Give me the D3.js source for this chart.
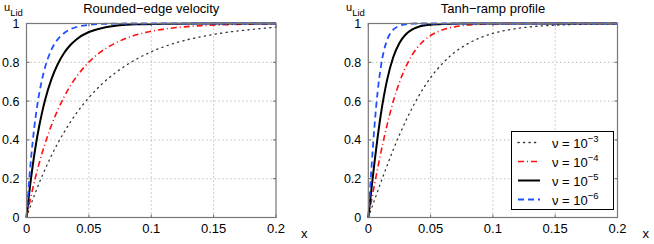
<!DOCTYPE html>
<html>
<head>
<meta charset="utf-8">
<script src="https://cdn.jsdelivr.net/npm/d3@7"></script>
<style>
  body { margin: 0; background: #fff; }
  svg { font-family: "Liberation Sans", Arial, sans-serif; }
</style>
</head>
<body>
<div id="chart"></div>
<script>
// sample positions along the lid
const xVals = [0, 0.0025, 0.005, 0.0075, 0.01, 0.0125, 0.015, 0.02, 0.025, 0.03, 0.035, 0.04,
               0.05, 0.06, 0.07, 0.08, 0.09, 0.1, 0.12, 0.14, 0.16, 0.18, 0.2];

// rounded-edge velocity
const edgeNu3 = [0, 0.047, 0.092, 0.134, 0.175, 0.213, 0.25, 0.319, 0.382, 0.438, 0.49, 0.537,
                 0.618, 0.685, 0.74, 0.785, 0.823, 0.854, 0.901, 0.932, 0.954, 0.969, 0.981];
const edgeNu4 = [0, 0.077, 0.149, 0.215, 0.276, 0.332, 0.384, 0.475, 0.553, 0.62, 0.677, 0.725,
                 0.801, 0.856, 0.895, 0.924, 0.945, 0.96, 0.979, 0.989, 0.994, 0.997, 0.998];
const edgeNu5 = [0, 0.145, 0.268, 0.374, 0.465, 0.542, 0.608, 0.713, 0.79, 0.847, 0.888, 0.918,
                 0.956, 0.976, 0.987, 0.993, 0.996, 0.998, 0.999, 1, 1, 1, 1];
const edgeNu6 = [0, 0.221, 0.393, 0.528, 0.632, 0.713, 0.777, 0.865, 0.918, 0.95, 0.97, 0.982,
                 0.993, 0.998, 0.999, 1, 1, 1, 1, 1, 1, 1, 1];

// tanh ramp
const tanhNu3 = [0, 0.045, 0.091, 0.135, 0.18, 0.223, 0.266, 0.349, 0.426, 0.497, 0.562, 0.621,
                 0.721, 0.797, 0.855, 0.896, 0.927, 0.949, 0.975, 0.988, 0.994, 0.997, 0.999];
const tanhNu4 = [0, 0.086, 0.171, 0.253, 0.332, 0.406, 0.475, 0.598, 0.697, 0.775, 0.836, 0.881,
                 0.938, 0.968, 0.984, 0.992, 0.996, 0.998, 1, 1, 1, 1, 1];
const tanhNu5 = [0, 0.146, 0.286, 0.414, 0.529, 0.626, 0.707, 0.826, 0.9, 0.943, 0.968, 0.982,
                 0.994, 0.998, 0.999, 1, 1, 1, 1, 1, 1, 1, 1];
const tanhNu6 = [0, 0.252, 0.474, 0.649, 0.774, 0.859, 0.913, 0.968, 0.988, 0.996, 0.999, 1,
                 1, 1, 1, 1, 1, 1, 1, 1, 1, 1, 1];

const nuExps = ["−3", "−4", "−5", "−6"];
const xTicks = [0, 0.05, 0.1, 0.15, 0.2];
const yTicks = [0, 0.2, 0.4, 0.6, 0.8, 1];
const titles = ["Rounded−edge velocity", "Tanh−ramp profile"];

const styles = [
  { color: "#333", width: 1.3, dash: "1.2,4.3", cap: "round" },
  { color: "#ff1010", width: 1.6, dash: "6,3,1,3", cap: "butt" },
  { color: "#000", width: 2, dash: null, cap: "butt" },
  { color: "#2050ff", width: 1.8, dash: "6,4", cap: "butt" }
];

const W = 654, H = 244;
const svg = d3.select("#chart").append("svg")
    .attr("width", W).attr("height", H);

const fmt = d => d === 0 ? "0" : String(d);

function drawPanel(left, right, title, seriesList, withLegend, yAxisX) {
    const x = d3.scaleLinear().domain([0, 0.2]).range([left, right]);
    const y = d3.scaleLinear().domain([0, 1]).range([217.5, 23.5]);
    const g = svg.append("g");

    // grid
    g.selectAll(".vg").data(xTicks.slice(1, -1)).enter().append("line")
        .attr("x1", d => x(d)).attr("x2", d => x(d))
        .attr("y1", y(0)).attr("y2", y(1))
        .attr("stroke", "#888").attr("stroke-width", 0.8)
        .attr("stroke-dasharray", "1,3");
    g.selectAll(".hg").data(yTicks.slice(1, -1)).enter().append("line")
        .attr("x1", x(0)).attr("x2", x(0.2))
        .attr("y1", d => y(d)).attr("y2", d => y(d))
        .attr("stroke", "#888").attr("stroke-width", 0.8)
        .attr("stroke-dasharray", "1,3");

    // tick marks, inside, on all four sides
    const tl = 3;
    xTicks.forEach(t => {
        g.append("line").attr("x1", x(t)).attr("x2", x(t)).attr("y1", y(0)).attr("y2", y(0) - tl)
            .attr("stroke", "#666");
        g.append("line").attr("x1", x(t)).attr("x2", x(t)).attr("y1", y(1)).attr("y2", y(1) + tl)
            .attr("stroke", "#666");
    });
    yTicks.forEach(t => {
        g.append("line").attr("x1", x(0)).attr("x2", x(0) + tl).attr("y1", y(t)).attr("y2", y(t))
            .attr("stroke", "#666");
        g.append("line").attr("x1", x(0.2)).attr("x2", x(0.2) - tl).attr("y1", y(t)).attr("y2", y(t))
            .attr("stroke", "#666");
    });

    // curves
    const line = d3.line()
        .x((d, i) => x(xVals[i]))
        .y(d => y(d))
        .curve(d3.curveMonotoneX);

    seriesList.forEach((s, i) => {
        const st = styles[i];
        g.append("path")
            .attr("d", line(s))
            .attr("fill", "none")
            .attr("stroke", st.color)
            .attr("stroke-width", st.width)
            .attr("stroke-linecap", st.cap)
            .attr("stroke-dasharray", st.dash);
    });

    // frame
    g.append("rect")
        .attr("x", x(0)).attr("y", y(1))
        .attr("width", x(0.2) - x(0)).attr("height", y(0) - y(1))
        .attr("fill", "none").attr("stroke", "#777").attr("stroke-width", 1.2);

    // tick labels
    g.selectAll(".xl").data(xTicks).enter().append("text")
        .attr("x", d => x(d)).attr("y", 233)
        .attr("text-anchor", "middle")
        .style("font-size", "13px")
        .text(fmt);
    g.selectAll(".yl").data(yTicks).enter().append("text")
        .attr("x", x(0) - 7).attr("y", d => y(d))
        .attr("dy", "0.36em")
        .attr("text-anchor", "end")
        .style("font-size", "12.5px")
        .text(fmt);

    // x label
    g.append("text").attr("x", x(0.2) + 25).attr("y", 238)
        .style("font-size", "13px").text("x");

    // y label u_Lid
    const yl = g.append("text").attr("x", yAxisX).attr("y", 11)
        .style("font-size", "11px");
    yl.append("tspan").text("u");
    yl.append("tspan").attr("dy", 5).style("font-size", "9.5px").text("Lid");

    // title
    g.append("text")
        .attr("x", (x(0) + x(0.2)) / 2).attr("y", 13)
        .attr("text-anchor", "middle")
        .style("font-size", "13px")
        .text(title);

    if (withLegend) {
        const lg = g.append("g");
        lg.append("rect")
            .attr("x", 511.5).attr("y", 131.5).attr("width", 102).attr("height", 78)
            .attr("fill", "#fff").attr("stroke", "#000").attr("stroke-width", 1);
        nuExps.forEach((e, i) => {
            const st = styles[i];
            const yy = 142.5 + i * 19;
            lg.append("line")
                .attr("x1", 518).attr("x2", 540).attr("y1", yy).attr("y2", yy)
                .attr("stroke", st.color).attr("stroke-width", st.width)
                .attr("stroke-linecap", st.cap)
                .attr("stroke-dasharray", st.dash);
            const t = lg.append("text").attr("x", 552).attr("y", yy + 5)
                .style("font-size", "13px");
            t.append("tspan").text("ν = 10");
            t.append("tspan").attr("dy", -6).style("font-size", "9.5px").text(e);
        });
    }
}

drawPanel(26.5, 276, titles[0], [edgeNu3, edgeNu4, edgeNu5, edgeNu6], false, 4);
drawPanel(368.3, 617.5, titles[1], [tanhNu3, tanhNu4, tanhNu5, tanhNu6], true, 346);
</script>
</body>
</html>
